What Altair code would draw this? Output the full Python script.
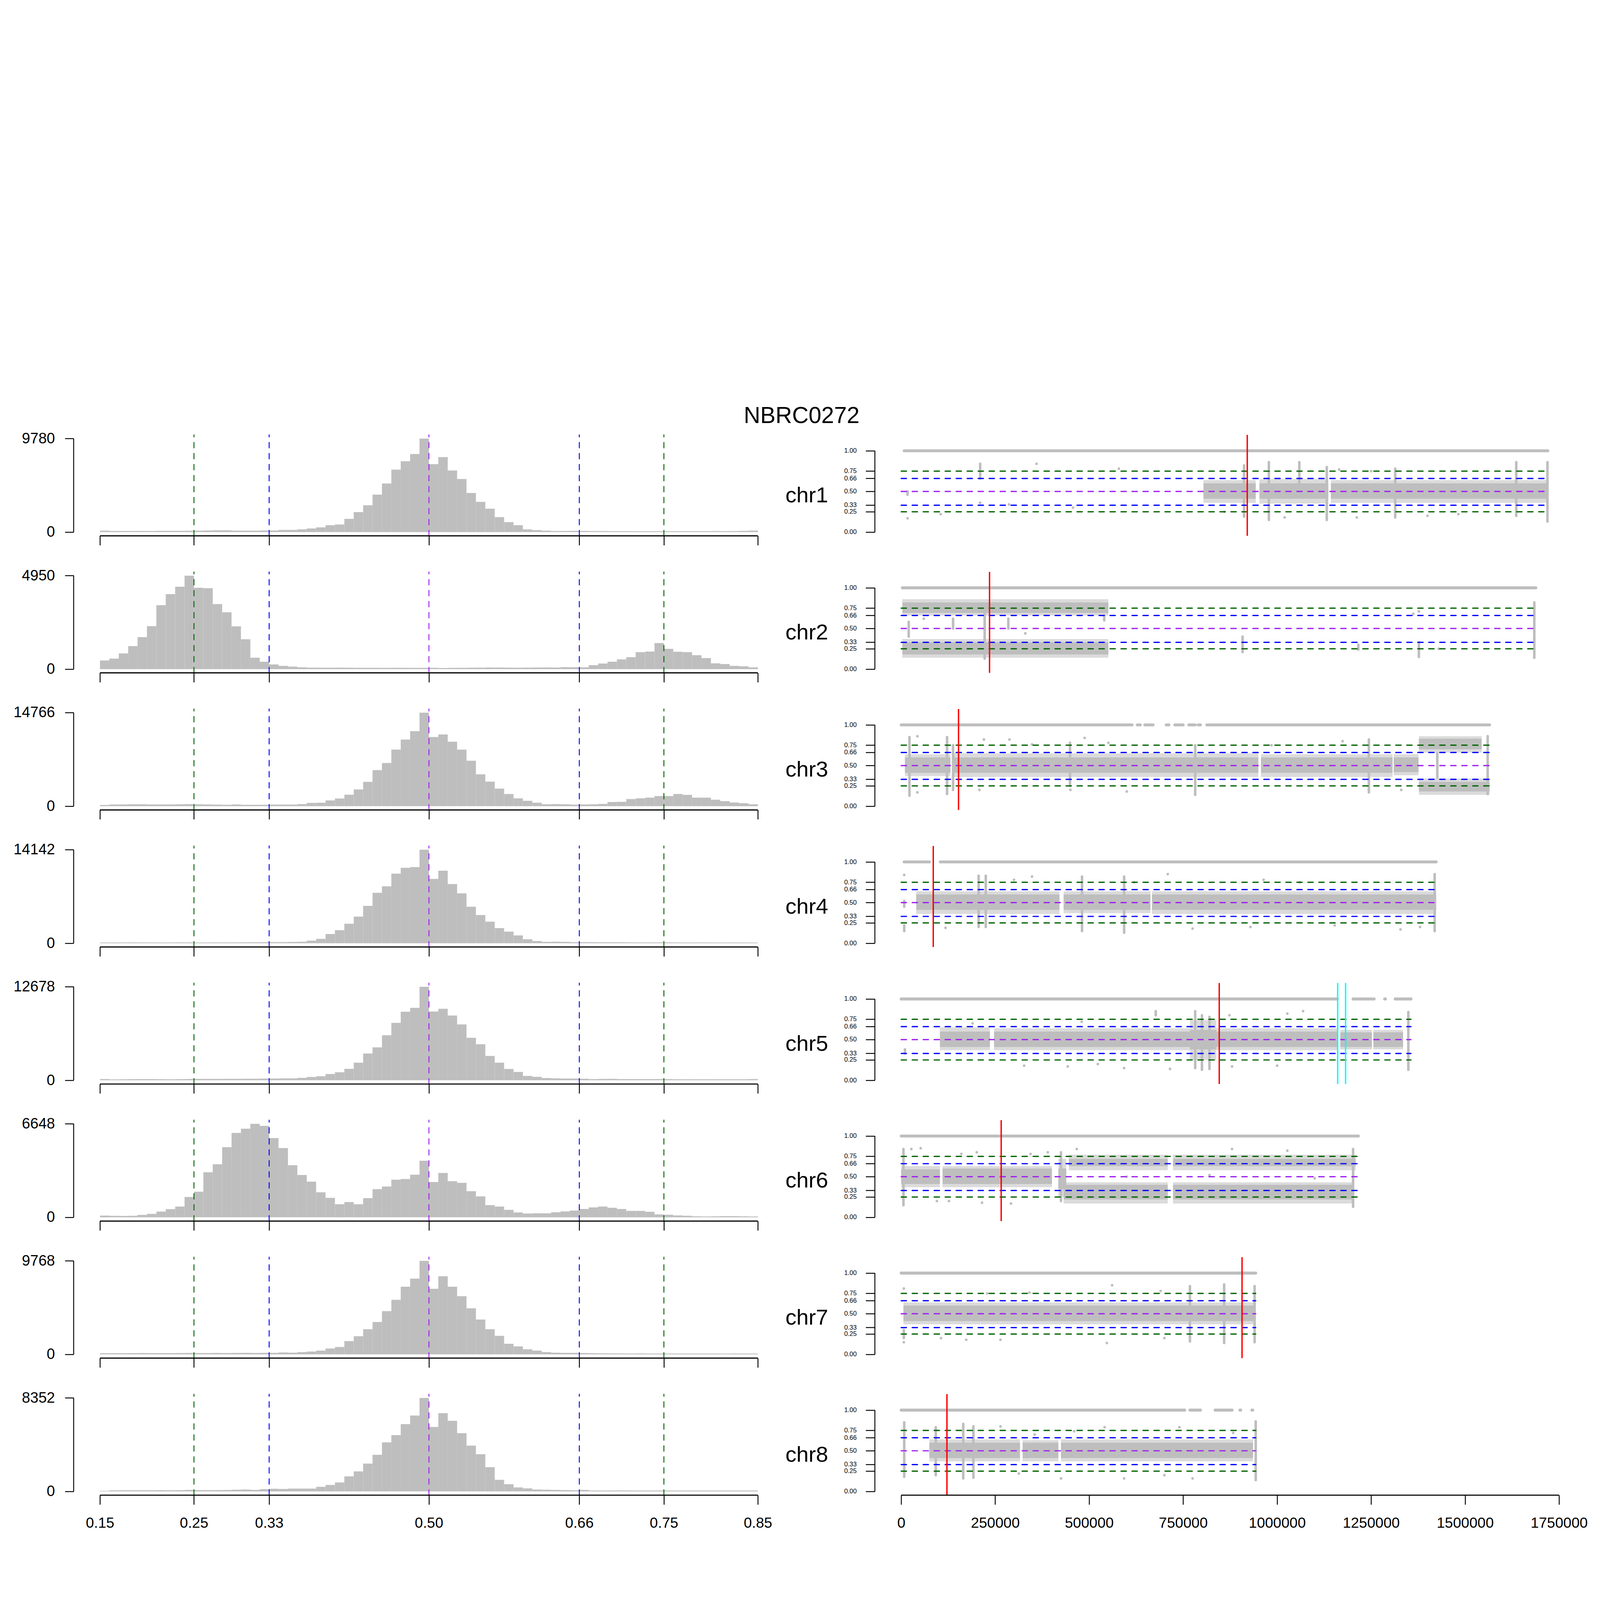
import altair as alt
import pandas as pd

FONT = "Liberation Sans"
GRAY = "#BEBEBE"
DGREEN = "#006400"
BLUE = "#0000FF"
PURPLE = "#A020F0"
RED = "#FF0000"
CYAN = "#00FFFF"

TITLE = "NBRC0272"
CHROMS = ["chr1", "chr2", "chr3", "chr4", "chr5", "chr6", "chr7", "chr8"]

# ---------------- left column: allele-frequency histograms ----------------
HIST_BIN_START = 0.15
HIST_BIN_WIDTH = 0.01
HIST_TICKS = [0.15, 0.25, 0.33, 0.50, 0.66, 0.75, 0.85]
HIST_MAX = [9780, 4950, 14766, 14142, 12678, 6648, 9768, 8352]

HIST_CHR1 = [150, 115, 115, 115, 120, 115, 130, 130, 130, 140,
             150, 170, 190, 190, 150, 150, 150, 170, 170, 227,
             230, 284, 379, 493, 720, 796, 1383, 2085, 2805, 3923,
             5079, 6538, 7410, 8167, 9780, 7106, 7845, 6443, 5552, 4093,
             3165, 2445, 1573, 1042, 720, 284, 208, 152, 114, 120,
             130, 120, 110, 110, 100, 100, 100, 95, 95, 95,
             95, 100, 100, 100, 100, 110, 100, 110, 130, 160]
HIST_CHR2 = [460, 556, 834, 1218, 1697, 2273, 3385, 3970, 4363, 4950,
             4306, 4287, 3443, 3011, 2263, 1582, 604, 393, 249, 173,
             134, 96, 80, 77, 77, 80, 77, 70, 70, 70,
             67, 70, 70, 67, 67, 70, 60, 67, 70, 77,
             80, 86, 86, 80, 77, 80, 86, 90, 86, 105,
             100, 96, 211, 297, 393, 518, 633, 901, 930, 1381,
             1074, 921, 901, 738, 585, 307, 269, 173, 153, 96]
HIST_CHR3 = [190, 275, 275, 300, 300, 275, 275, 275, 300, 330,
             300, 275, 250, 220, 275, 220, 220, 220, 250, 250,
             250, 330, 520, 550, 910, 1210, 1815, 2640, 3850, 5690,
             6820, 8940, 10530, 11850, 14766, 10920, 11330, 10180, 8940, 7180,
             5030, 3880, 2780, 1925, 1240, 850, 550, 300, 330, 300,
             250, 275, 300, 360, 660, 690, 1130, 1240, 1350, 1600,
             1600, 1925, 1790, 1350, 1350, 1020, 800, 580, 470, 300]
HIST_CHR4 = [110, 110, 120, 130, 120, 120, 115, 120, 130, 130,
             110, 120, 130, 130, 130, 140, 150, 160, 170, 180,
             200, 230, 395, 660, 1395, 1975, 2945, 4025, 5655, 7630,
             8600, 10520, 11415, 11520, 14142, 9730, 10970, 8940, 7550, 5525,
             4260, 3260, 2290, 1760, 1185, 605, 340, 210, 235, 210,
             160, 160, 160, 150, 150, 150, 130, 130, 130, 130,
             130, 120, 110, 120, 120, 110, 110, 120, 110, 105]
HIST_CHR5 = [165, 118, 140, 160, 165, 165, 150, 140, 160, 175,
             190, 190, 190, 200, 200, 210, 210, 230, 236, 260,
             260, 330, 450, 540, 850, 1085, 1555, 2385, 3635, 4460,
             6110, 7790, 9300, 9820, 12678, 9320, 9700, 8780, 7575, 5760,
             4885, 3305, 2385, 1535, 1130, 590, 470, 305, 260, 236,
             236, 210, 165, 190, 200, 165, 165, 165, 165, 165,
             160, 140, 140, 140, 140, 140, 140, 140, 140, 165]
HIST_CHR6 = [124, 111, 100, 111, 173, 248, 409, 582, 768, 1449,
             1820, 3206, 3776, 4989, 6004, 6301, 6648, 6500, 5633, 4927,
             3702, 3008, 2538, 1783, 1387, 929, 1089, 929, 1362, 2006,
             2191, 2674, 2724, 3033, 4024, 2513, 3157, 2575, 2451, 1857,
             1486, 867, 768, 532, 347, 272, 285, 285, 359, 421,
             483, 594, 706, 768, 681, 594, 458, 458, 396, 210,
             186, 136, 111, 74, 62, 74, 87, 87, 74, 62]
HIST_CHR7 = [120, 120, 120, 130, 140, 130, 130, 130, 140, 150,
             140, 140, 150, 140, 150, 160, 150, 160, 160, 200,
             180, 238, 297, 396, 614, 772, 1386, 1900, 2634, 3385,
             4514, 5702, 7068, 7920, 9768, 6850, 8157, 7068, 6079, 4812,
             3643, 2634, 1940, 1109, 832, 535, 396, 238, 178, 158,
             158, 139, 120, 110, 100, 100, 90, 100, 90, 90,
             90, 90, 90, 90, 90, 90, 80, 90, 90, 90]
HIST_CHR8 = [51, 102, 102, 102, 102, 102, 110, 102, 110, 136,
             120, 120, 120, 130, 153, 170, 136, 204, 238, 220,
             255, 255, 255, 409, 579, 801, 1346, 1789, 2488, 3272,
             4379, 5027, 6015, 6782, 8352, 5760, 6987, 6305, 5197, 4090,
             3323, 2164, 1039, 648, 358, 273, 170, 153, 136, 120,
             102, 136, 85, 85, 85, 90, 85, 85, 85, 85,
             85, 85, 85, 85, 85, 85, 85, 85, 85, 85]
HIST_COUNTS = [HIST_CHR1, HIST_CHR2, HIST_CHR3, HIST_CHR4,
               HIST_CHR5, HIST_CHR6, HIST_CHR7, HIST_CHR8]

GUIDE_LEVELS = [0.25, 0.33, 0.50, 0.66, 0.75]
GUIDE_COLORS = [DGREEN, BLUE, PURPLE, BLUE, DGREEN]

# ---------------- right column: allele frequency along chromosome ----------------
BAF_TICKS = [0.0, 0.25, 0.33, 0.50, 0.66, 0.75, 1.0]
POS_TICKS = [0, 250000, 500000, 750000, 1000000, 1250000, 1500000, 1750000]
CHR_LEN = [1718000, 1688000, 1565000, 1423000, 1356000, 1216000, 943000, 943000]
RED_BREAK = [920500, 235000, 152500, 85300, 846000, 266000, 906600, 121700]
CYAN_BREAK = [("chr5", 1161000), ("chr5", 1182000)]
LABEL_LEVEL = 0.5

# runs of sites with allele frequency 1.00: (chrom, start, end)
HOM_RUNS = [
    ("chr1", 8000, 1720000),
    ("chr2", 3000, 1688000),
    ("chr3", 0, 614000), ("chr3", 628000, 636000), ("chr3", 648000, 670000),
    ("chr3", 705000, 712000), ("chr3", 728000, 750000), ("chr3", 765000, 782000),
    ("chr3", 790000, 796000), ("chr3", 813000, 1565000),
    ("chr4", 8000, 75000), ("chr4", 104000, 1423000),
    ("chr5", 0, 1160000), ("chr5", 1202000, 1258000), ("chr5", 1286000, 1288000),
    ("chr5", 1314000, 1356000),
    ("chr6", 0, 1216000),
    ("chr7", 0, 943000),
    ("chr8", 0, 754000), ("chr8", 768000, 796000), ("chr8", 835000, 880000),
    ("chr8", 901000, 903000), ("chr8", 933000, 935000),
]

# dense clouds of sites: (chrom, start, end, core_lo, core_hi, spread_lo, spread_hi)
BANDS = [
    ("chr1", 804000, 943000, 0.41, 0.60, 0.36, 0.64),
    ("chr1", 953000, 1136000, 0.41, 0.60, 0.35, 0.65),
    ("chr1", 1143000, 1720000, 0.41, 0.60, 0.36, 0.64),
    ("chr2", 3000, 551000, 0.69, 0.82, 0.66, 0.86),
    ("chr2", 3000, 551000, 0.18, 0.33, 0.14, 0.37),
    ("chr3", 10000, 131000, 0.41, 0.60, 0.37, 0.64),
    ("chr3", 138000, 950000, 0.41, 0.60, 0.36, 0.65),
    ("chr3", 957000, 1307000, 0.41, 0.60, 0.36, 0.64),
    ("chr3", 1310000, 1376000, 0.42, 0.60, 0.38, 0.64),
    ("chr3", 1377000, 1544000, 0.70, 0.83, 0.66, 0.86),
    ("chr3", 1377000, 1565000, 0.18, 0.30, 0.14, 0.34),
    ("chr4", 40000, 421000, 0.41, 0.60, 0.36, 0.64),
    ("chr4", 432000, 663000, 0.41, 0.60, 0.37, 0.64),
    ("chr4", 667000, 1423000, 0.41, 0.60, 0.36, 0.64),
    ("chr5", 103000, 236000, 0.41, 0.60, 0.37, 0.65),
    ("chr5", 247000, 768000, 0.41, 0.60, 0.37, 0.64),
    ("chr5", 768000, 838000, 0.38, 0.62, 0.25, 0.74),
    ("chr5", 838000, 1162000, 0.41, 0.60, 0.37, 0.64),
    ("chr5", 1168000, 1252000, 0.41, 0.59, 0.38, 0.62),
    ("chr5", 1256000, 1335000, 0.41, 0.59, 0.38, 0.62),
    ("chr6", 0, 103000, 0.41, 0.59, 0.37, 0.63),
    ("chr6", 110000, 401000, 0.41, 0.60, 0.37, 0.63),
    ("chr6", 418000, 439000, 0.35, 0.60, 0.25, 0.72),
    ("chr6", 446000, 709000, 0.63, 0.72, 0.58, 0.77),
    ("chr6", 723000, 1209000, 0.63, 0.72, 0.58, 0.77),
    ("chr6", 432000, 709000, 0.22, 0.40, 0.17, 0.43),
    ("chr6", 723000, 1202000, 0.22, 0.40, 0.17, 0.43),
    ("chr7", 6000, 943000, 0.41, 0.60, 0.37, 0.64),
    ("chr8", 75000, 316000, 0.41, 0.60, 0.37, 0.64),
    ("chr8", 323000, 418000, 0.41, 0.60, 0.37, 0.63),
    ("chr8", 425000, 936000, 0.41, 0.60, 0.37, 0.64),
]

# vertical stacks of outlying sites: (chrom, pos, lo, hi)
SPIKES = [
    ("chr1", 17000, 0.46, 0.50), ("chr1", 210000, 0.66, 0.84), ("chr1", 912000, 0.19, 0.82),
    ("chr1", 978000, 0.15, 0.86), ("chr1", 1059000, 0.60, 0.86), ("chr1", 1132000, 0.15, 0.80),
    ("chr1", 1314000, 0.18, 0.78), ("chr1", 1636000, 0.20, 0.86), ("chr1", 1719000, 0.13, 0.86),
    ("chr2", 20000, 0.40, 0.58), ("chr2", 138000, 0.50, 0.62), ("chr2", 222000, 0.13, 0.78),
    ("chr2", 285000, 0.50, 0.62), ("chr2", 540000, 0.60, 0.66), ("chr2", 908000, 0.21, 0.40),
    ("chr2", 1216000, 0.24, 0.30), ("chr2", 1377000, 0.15, 0.33), ("chr2", 1684000, 0.14, 0.82),
    ("chr3", 22000, 0.13, 0.85), ("chr3", 122000, 0.15, 0.85), ("chr3", 138000, 0.20, 0.75),
    ("chr3", 449000, 0.25, 0.78), ("chr3", 782000, 0.14, 0.75), ("chr3", 1244000, 0.17, 0.82),
    ("chr3", 1426000, 0.35, 0.65), ("chr3", 1560000, 0.15, 0.86),
    ("chr4", 8000, 0.15, 0.22), ("chr4", 8000, 0.45, 0.52), ("chr4", 206000, 0.20, 0.83),
    ("chr4", 225000, 0.20, 0.83), ("chr4", 481000, 0.15, 0.82), ("chr4", 593000, 0.13, 0.82),
    ("chr4", 1419000, 0.15, 0.85),
    ("chr5", 10000, 0.33, 0.38), ("chr5", 677000, 0.80, 0.85), ("chr5", 782000, 0.15, 0.85),
    ("chr5", 800000, 0.13, 0.80), ("chr5", 820000, 0.14, 0.78), ("chr5", 1349000, 0.13, 0.84),
    ("chr6", 6000, 0.15, 0.84), ("chr6", 425000, 0.20, 0.80), ("chr6", 1202000, 0.13, 0.84),
    ("chr7", 7000, 0.20, 0.30), ("chr7", 768000, 0.16, 0.84), ("chr7", 859000, 0.14, 0.86),
    ("chr7", 940000, 0.15, 0.84),
    ("chr8", 8000, 0.18, 0.85), ("chr8", 92000, 0.20, 0.79), ("chr8", 165000, 0.16, 0.83),
    ("chr8", 192000, 0.17, 0.80), ("chr8", 943000, 0.14, 0.86),
]

# single outlying sites: (chrom, pos, allele frequency)
POINTS = [
    ("chr1", 17000, 0.17), ("chr1", 105000, 0.22), ("chr1", 210000, 0.36), ("chr1", 287000, 0.34),
    ("chr1", 360000, 0.84), ("chr1", 457000, 0.30), ("chr1", 579000, 0.78), ("chr1", 860000, 0.25),
    ("chr1", 1020000, 0.18), ("chr1", 1165000, 0.77), ("chr1", 1212000, 0.18), ("chr1", 1250000, 0.75),
    ("chr1", 1400000, 0.20), ("chr1", 1482000, 0.22),
    ("chr2", 60000, 0.62), ("chr2", 330000, 0.44), ("chr2", 1314000, 0.66), ("chr2", 1362000, 0.68),
    ("chr2", 1377000, 0.71), ("chr2", 1430000, 0.25),
    ("chr3", 43000, 0.86), ("chr3", 43000, 0.17), ("chr3", 208000, 0.20), ("chr3", 220000, 0.82),
    ("chr3", 288000, 0.82), ("chr3", 348000, 0.76), ("chr3", 450000, 0.20), ("chr3", 488000, 0.84),
    ("chr3", 551000, 0.78), ("chr3", 600000, 0.18), ("chr3", 985000, 0.75), ("chr3", 1174000, 0.80),
    ("chr3", 1330000, 0.20),
    ("chr4", 8000, 0.84), ("chr4", 118000, 0.19), ("chr4", 300000, 0.78), ("chr4", 348000, 0.82),
    ("chr4", 620000, 0.75), ("chr4", 709000, 0.85), ("chr4", 775000, 0.18), ("chr4", 929000, 0.20),
    ("chr4", 964000, 0.78), ("chr4", 1060000, 0.75), ("chr4", 1153000, 0.22), ("chr4", 1328000, 0.17),
    ("chr4", 1380000, 0.20),
    ("chr5", 190000, 0.70), ("chr5", 327000, 0.18), ("chr5", 443000, 0.17), ("chr5", 480000, 0.72),
    ("chr5", 523000, 0.20), ("chr5", 593000, 0.15), ("chr5", 715000, 0.14), ("chr5", 873000, 0.80),
    ("chr5", 880000, 0.17), ("chr5", 1000000, 0.18), ("chr5", 1027000, 0.82), ("chr5", 1069000, 0.85),
    ("chr6", 27000, 0.84), ("chr6", 52000, 0.85), ("chr6", 95000, 0.20), ("chr6", 127000, 0.20),
    ("chr6", 160000, 0.78), ("chr6", 201000, 0.80), ("chr6", 215000, 0.18), ("chr6", 292000, 0.17),
    ("chr6", 344000, 0.78), ("chr6", 390000, 0.80), ("chr6", 467000, 0.84), ("chr6", 600000, 0.50),
    ("chr6", 820000, 0.52), ("chr6", 880000, 0.84), ("chr6", 1027000, 0.82), ("chr6", 1100000, 0.48),
    ("chr7", 7000, 0.81), ("chr7", 7000, 0.15), ("chr7", 106000, 0.20), ("chr7", 173000, 0.18),
    ("chr7", 229000, 0.75), ("chr7", 264000, 0.18), ("chr7", 341000, 0.76), ("chr7", 547000, 0.14),
    ("chr7", 561000, 0.85), ("chr7", 690000, 0.78), ("chr7", 700000, 0.20),
    ("chr8", 264000, 0.80), ("chr8", 313000, 0.22), ("chr8", 355000, 0.70), ("chr8", 425000, 0.16),
    ("chr8", 460000, 0.74), ("chr8", 541000, 0.79), ("chr8", 593000, 0.16), ("chr8", 700000, 0.20),
    ("chr8", 740000, 0.79), ("chr8", 775000, 0.16), ("chr8", 883000, 0.72),
]

# ---------------- layout / style ----------------
PAD = 0.04                      # R default axis expansion
HIST_XLIM = (0.15, 0.85)
POS_XLIM = (0, 1750000)
BAF_YLIM = (0.0, 1.15)
PANEL_W = 3103
PANEL_H = 441
# every panel carries an invisible frame so that all cells share the same extents
FRAME_TOP = 30
FRAME_BOTTOM = 60
LEFT_FRAME = (-300, PANEL_W + 200)
RIGHT_FRAME = (-196, PANEL_W + 40)
ROW_PITCH = 598.5
ROW_GAP = ROW_PITCH - PANEL_H - FRAME_TOP - FRAME_BOTTOM
COL_GAP = 0
LABEL_RIGHT = PANEL_W + 192     # right edge of the chromosome name
LABEL_DROP = 48                 # baseline below the 0.50 level


def expand(lo, hi):
    d = (hi - lo) * PAD
    return [lo - d, hi + d]


def frame_layer(xr):
    return alt.Chart(pd.DataFrame({"k": [0]})).mark_rule(opacity=0, strokeOpacity=0).encode(
        x=alt.value(xr[0]), x2=alt.value(xr[1]),
        y=alt.value(-FRAME_TOP), y2=alt.value(PANEL_H + FRAME_BOTTOM))


def hist_panel(i, bottom):
    m = HIST_MAX[i]
    counts = HIST_COUNTS[i]
    xdom = expand(*HIST_XLIM)
    ydom = expand(0, m)
    xs = alt.Scale(domain=xdom, nice=False, zero=False)
    ys = alt.Scale(domain=ydom, nice=False, zero=False)
    xaxis = alt.Axis(values=HIST_TICKS, format=".2f", labels=bottom, domain=False, grid=False,
                     tickSize=41, tickWidth=4, tickColor="black", labelFontSize=64,
                     labelPadding=50, labelFlush=False, labelOverlap=False, labelColor="black",
                     labelFont=FONT, labelLimit=1000)
    yaxis = alt.Axis(values=[0, m], format="d", domain=False, grid=False, tickSize=38,
                     tickWidth=4, tickColor="black", labelFontSize=65, labelPadding=44,
                     labelFlush=False, labelOverlap=False, labelColor="black", labelFont=FONT,
                     labelLimit=1000)

    def X(f):
        return alt.X(f, type="quantitative", scale=xs, axis=xaxis, title=None)

    def Y(f):
        return alt.Y(f, type="quantitative", scale=ys, axis=yaxis, title=None)

    n = len(counts)
    bars = pd.DataFrame({
        "lo": [HIST_BIN_START + k * HIST_BIN_WIDTH for k in range(n)],
        "hi": [HIST_BIN_START + (k + 1) * HIST_BIN_WIDTH for k in range(n)],
        "count": counts,
        "base": [0] * n,
    })
    guides = pd.DataFrame({"x": GUIDE_LEVELS, "col": GUIDE_COLORS,
                           "y": [ydom[0]] * 5, "y2": [ydom[1]] * 5})
    xline = pd.DataFrame({"x": [HIST_XLIM[0]], "x2": [HIST_XLIM[1]], "y": [ydom[0]]})
    yline = pd.DataFrame({"x": [xdom[0]], "y": [0], "y2": [m]})

    # chromosome name belongs to the right-hand panel; it sits at that panel's 0.50 level
    bdom = expand(*BAF_YLIM)
    label_y = (bdom[1] - LABEL_LEVEL) / (bdom[1] - bdom[0]) * PANEL_H + LABEL_DROP
    label = pd.DataFrame({"name": [CHROMS[i]]})

    layers = [
        alt.Chart(bars).mark_rect(color=GRAY).encode(
            x=X("lo"), x2="hi", y=Y("count"), y2="base"),
        alt.Chart(guides).mark_rule(strokeWidth=4, strokeDash=[24, 24], strokeCap="round").encode(
            x=X("x"), y=Y("y"), y2="y2", color=alt.Color("col:N", scale=None)),
        alt.Chart(xline).mark_rule(color="black", strokeWidth=5).encode(
            x=X("x"), x2="x2", y=Y("y")),
        alt.Chart(yline).mark_rule(color="black", strokeWidth=4).encode(
            x=X("x"), y=Y("y"), y2="y2"),
        alt.Chart(label).mark_text(align="right", baseline="alphabetic", fontSize=96,
                                   font=FONT, color="black").encode(
            x=alt.value(LABEL_RIGHT), y=alt.value(label_y), text="name:N"),
        frame_layer(LEFT_FRAME),
    ]
    return alt.layer(*layers).properties(width=PANEL_W, height=PANEL_H)


def baf_panel(i, bottom):
    c = CHROMS[i]
    xdom = expand(*POS_XLIM)
    ydom = expand(*BAF_YLIM)
    xs = alt.Scale(domain=xdom, nice=False, zero=False)
    ys = alt.Scale(domain=ydom, nice=False, zero=False)
    if bottom:
        xaxis = alt.Axis(values=POS_TICKS, format="d", domain=False, grid=False, tickSize=41,
                         tickWidth=4, tickColor="black", labelFontSize=64, labelPadding=50,
                         labelFlush=False, labelOverlap=False, labelColor="black", labelFont=FONT,
                         labelLimit=1000)
    else:
        xaxis = None
    yaxis = alt.Axis(values=BAF_TICKS, format=".2f", domain=False, grid=False, tickSize=40,
                     tickWidth=4, tickColor="black", labelFontSize=28, labelPadding=40,
                     labelFlush=False, labelOverlap=False, labelColor="black", labelFont=FONT,
                     labelLimit=1000)

    def X(f):
        return alt.X(f, type="quantitative", scale=xs, axis=xaxis, title=None)

    def Y(f):
        return alt.Y(f, type="quantitative", scale=ys, axis=yaxis, title=None)

    bands = pd.DataFrame([b[1:] for b in BANDS if b[0] == c],
                         columns=["start", "end", "lo", "hi", "slo", "shi"])
    hom = pd.DataFrame([h[1:] for h in HOM_RUNS if h[0] == c], columns=["start", "end"])
    hom["baf"] = 1.0
    spikes = pd.DataFrame([s[1:] for s in SPIKES if s[0] == c], columns=["pos", "lo", "hi"])
    pts = pd.DataFrame([p[1:] for p in POINTS if p[0] == c], columns=["pos", "baf"])
    guides = pd.DataFrame({"start": [0] * 5, "end": [CHR_LEN[i]] * 5,
                           "level": GUIDE_LEVELS, "col": GUIDE_COLORS})
    red = pd.DataFrame({"pos": [RED_BREAK[i]], "lo": [ydom[0]], "hi": [ydom[1]]})
    cyan_pos = [p for (cc, p) in CYAN_BREAK if cc == c]
    yline = pd.DataFrame({"x": [xdom[0]], "y": [BAF_TICKS[0]], "y2": [BAF_TICKS[-1]]})

    layers = [
        alt.Chart(bands).mark_rect(color=GRAY, opacity=0.55).encode(
            x=X("start"), x2="end", y=Y("slo"), y2="shi"),
        alt.Chart(bands).mark_rect(color=GRAY).encode(
            x=X("start"), x2="end", y=Y("lo"), y2="hi"),
        alt.Chart(spikes).mark_rule(color=GRAY, strokeWidth=11, strokeCap="round").encode(
            x=X("pos"), y=Y("lo"), y2="hi"),
        alt.Chart(pts).mark_circle(color=GRAY, size=130, opacity=1).encode(
            x=X("pos"), y=Y("baf")),
        alt.Chart(hom).mark_rule(color=GRAY, strokeWidth=13, strokeCap="round").encode(
            x=X("start"), x2="end", y=Y("baf")),
        alt.Chart(guides).mark_rule(strokeWidth=5.5, strokeDash=[23, 25], strokeCap="round").encode(
            x=X("start"), x2="end", y=Y("level"), color=alt.Color("col:N", scale=None)),
        alt.Chart(red).mark_rule(color=RED, strokeWidth=6).encode(
            x=X("pos"), y=Y("lo"), y2="hi"),
    ]
    if cyan_pos:
        cy = pd.DataFrame({"pos": cyan_pos, "lo": [ydom[0]] * len(cyan_pos),
                           "hi": [ydom[1]] * len(cyan_pos)})
        layers.append(alt.Chart(cy).mark_rule(color=CYAN, strokeWidth=6).encode(
            x=X("pos"), y=Y("lo"), y2="hi"))
    layers.append(alt.Chart(yline).mark_rule(color="black", strokeWidth=4).encode(
        x=X("x"), y=Y("y"), y2="y2"))
    if bottom:
        xline = pd.DataFrame({"x": [POS_XLIM[0]], "x2": [POS_XLIM[1]], "y": [ydom[0]]})
        layers.append(alt.Chart(xline).mark_rule(color="black", strokeWidth=5).encode(
            x=X("x"), x2="x2", y=Y("y")))
    layers.append(frame_layer(RIGHT_FRAME))
    return alt.layer(*layers).properties(width=PANEL_W, height=PANEL_H)


panels = []
for i in range(len(CHROMS)):
    last = i == len(CHROMS) - 1
    panels.append(hist_panel(i, last))
    panels.append(baf_panel(i, last))

chart = alt.concat(*panels, columns=2, spacing={"row": ROW_GAP, "column": COL_GAP},
                   align="each").properties(
    title=alt.TitleParams(text=TITLE, fontSize=100, font=FONT, fontWeight="normal",
                          anchor="middle", baseline="alphabetic", offset=-79, dx=8,
                          color="black"),
    padding={"left": 8, "top": 14, "right": 10, "bottom": 0},
    background="white",
).configure_view(stroke=None)

chart.save("out.html", embed_options={"renderer": "svg", "actions": False})
